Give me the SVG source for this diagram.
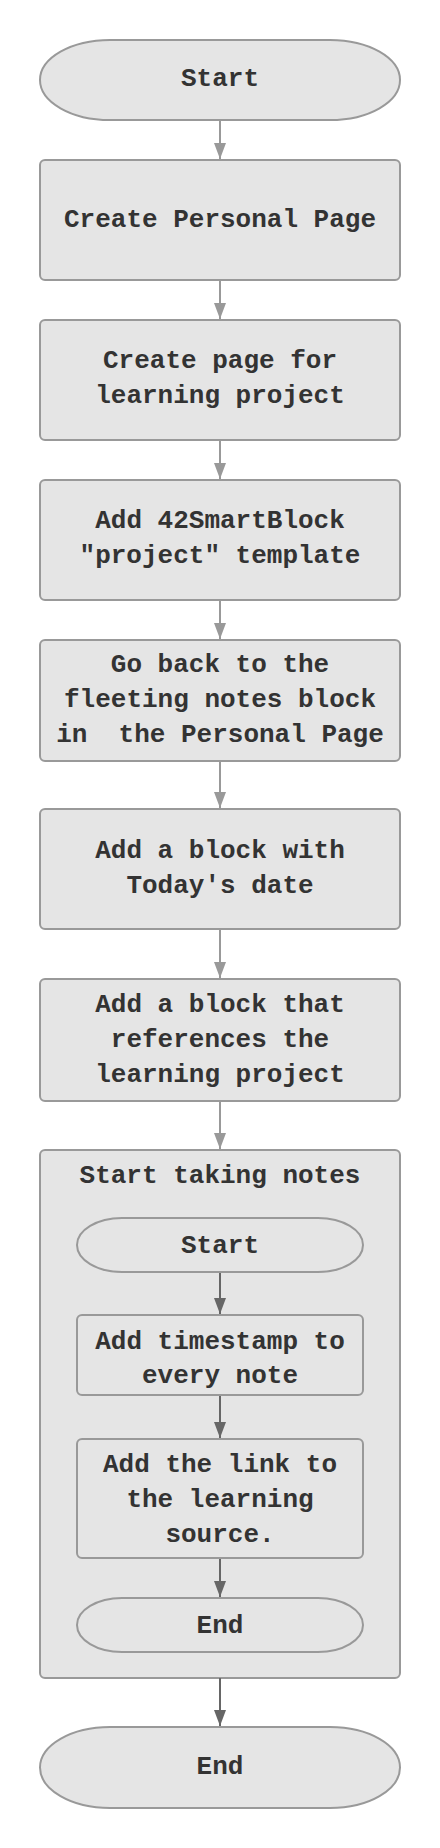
<svg xmlns="http://www.w3.org/2000/svg" width="440" height="1848" viewBox="0 0 440 1848">
<style>
.n{fill:#e5e5e5;stroke:#999;stroke-width:2}
.t{font-family:"Liberation Mono","Courier New",monospace;font-weight:bold;font-size:26px;fill:#333;text-anchor:middle}
.e1{stroke:#999;stroke-width:2;fill:none}
.e2{stroke:#666;stroke-width:2;fill:none}
</style>
<defs>
<marker id="h1" markerUnits="userSpaceOnUse" markerWidth="16" markerHeight="14" refX="16" refY="7" orient="auto" viewBox="0 0 16 14">
<path d="M0,1 L16,7 L0,13 Z" fill="#999"/>
</marker>
<marker id="h2" markerUnits="userSpaceOnUse" markerWidth="16" markerHeight="14" refX="16" refY="7" orient="auto" viewBox="0 0 16 14">
<path d="M0,1 L16,7 L0,13 Z" fill="#666"/>
</marker>
</defs>

<g id="cluster-notes">
<rect class="n" x="40" y="1150" width="360" height="528" rx="5"/>
<text class="t" x="220" y="1183">Start taking notes</text>
</g>

<g id="edges">
<line class="e1" x1="220" y1="120" x2="220" y2="159" marker-end="url(#h1)"/>
<line class="e1" x1="220" y1="280" x2="220" y2="319" marker-end="url(#h1)"/>
<line class="e1" x1="220" y1="440" x2="220" y2="479" marker-end="url(#h1)"/>
<line class="e1" x1="220" y1="600" x2="220" y2="639" marker-end="url(#h1)"/>
<line class="e1" x1="220" y1="761" x2="220" y2="808" marker-end="url(#h1)"/>
<line class="e1" x1="220" y1="929" x2="220" y2="978" marker-end="url(#h1)"/>
<line class="e1" x1="220" y1="1101" x2="220" y2="1149" marker-end="url(#h1)"/>
<line class="e2" x1="220" y1="1272" x2="220" y2="1314" marker-end="url(#h2)"/>
<line class="e2" x1="220" y1="1395" x2="220" y2="1438" marker-end="url(#h2)"/>
<line class="e2" x1="220" y1="1558" x2="220" y2="1597" marker-end="url(#h2)"/>
<line class="e2" x1="220" y1="1678" x2="220" y2="1726" marker-end="url(#h2)"/>
</g>

<g id="start">
<rect class="n" x="40" y="40" width="360" height="80" rx="70" ry="40"/>
<text class="t" x="220" y="86">Start</text>
</g>
<g id="create-personal-page">
<rect class="n" x="40" y="160" width="360" height="120" rx="5"/>
<text class="t" x="220" y="227">Create Personal Page</text>
</g>
<g id="create-learning-page">
<rect class="n" x="40" y="320" width="360" height="120" rx="5"/>
<text class="t" x="220" y="368">Create page for</text>
<text class="t" x="220" y="403">learning project</text>
</g>
<g id="add-template">
<rect class="n" x="40" y="480" width="360" height="120" rx="5"/>
<text class="t" x="220" y="528">Add 42SmartBlock</text>
<text class="t" x="220" y="563">"project" template</text>
</g>
<g id="go-back">
<rect class="n" x="40" y="640" width="360" height="121" rx="5"/>
<text class="t" x="220" y="672">Go back to the</text>
<text class="t" x="220" y="707">fleeting notes block</text>
<text class="t" x="220" y="742" xml:space="preserve">in  the Personal Page</text>
</g>
<g id="add-date-block">
<rect class="n" x="40" y="809" width="360" height="120" rx="5"/>
<text class="t" x="220" y="858">Add a block with</text>
<text class="t" x="220" y="893">Today's date</text>
</g>
<g id="add-reference-block">
<rect class="n" x="40" y="979" width="360" height="122" rx="5"/>
<text class="t" x="220" y="1012">Add a block that</text>
<text class="t" x="220" y="1047">references the</text>
<text class="t" x="220" y="1082">learning project</text>
</g>
<g id="inner-start">
<rect class="n" x="77" y="1218" width="286" height="54" rx="45" ry="27"/>
<text class="t" x="220" y="1253">Start</text>
</g>
<g id="add-timestamp">
<rect class="n" x="77" y="1315" width="286" height="80" rx="5"/>
<text class="t" x="220" y="1349">Add timestamp to</text>
<text class="t" x="220" y="1383">every note</text>
</g>
<g id="add-link">
<rect class="n" x="77" y="1439" width="286" height="119" rx="5"/>
<text class="t" x="220" y="1472">Add the link to</text>
<text class="t" x="220" y="1507">the learning</text>
<text class="t" x="220" y="1542">source.</text>
</g>
<g id="inner-end">
<rect class="n" x="77" y="1598" width="286" height="54" rx="45" ry="27"/>
<text class="t" x="220" y="1633">End</text>
</g>
<g id="end">
<rect class="n" x="40" y="1727" width="360" height="81" rx="70" ry="40.5"/>
<text class="t" x="220" y="1774">End</text>
</g>
</svg>
